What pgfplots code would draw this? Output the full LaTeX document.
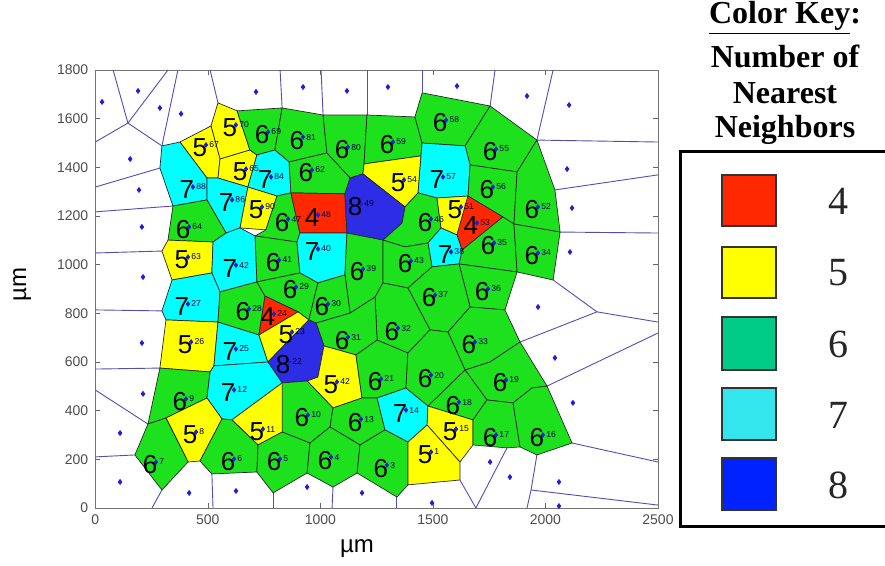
\documentclass[border=0pt]{standalone}
\usepackage{fontspec}
\setmainfont{Liberation Sans}
\newfontfamily\serif{Liberation Serif}
\usepackage{pgfplots}
\usepackage{pgfplotstable}
\pgfplotsset{compat=1.18}
\definecolor{cred}{RGB}{255,40,0}
\definecolor{cyel}{RGB}{255,255,0}
\definecolor{cgrn}{RGB}{30,225,30}
\definecolor{ccya}{RGB}{0,255,255}
\definecolor{cblu}{RGB}{45,45,230}
\definecolor{kgrn}{RGB}{0,204,136}
\definecolor{kcya}{RGB}{51,230,238}
\definecolor{kblu}{RGB}{0,34,255}
\definecolor{vline}{RGB}{85,75,180}
\definecolor{seedc}{RGB}{30,30,220}
\pgfplotsset{cell/.style={draw=black!85, line width=0.35pt, line join=round},
  wl/.style={draw=vline, line width=0.45pt}}

\pgfplotstableread{
x y n i
598 1562 5 70
465 1480 5 67
643 1381 5 65
741 1533 6 69
896 1512 6 81
1096 1471 6 80
1296 1492 6 59
1532 1582 6 58
1754 1463 6 55
754 1348 7 84
936 1377 6 62
1345 1336 5 54
1518 1348 7 57
1740 1307 6 56
1940 1225 6 52
407 1307 7 88
581 1254 7 86
714 1225 5 90
830 1175 6 47
963 1192 4 48
1154 1237 8 49
1465 1175 6 46
1598 1225 5 51
1669 1159 4 53
1745 1077 6 35
1940 1036 6 34
1554 1040 7 38
390 1143 6 64
385 1019 5 63
598 986 7 42
790 1007 6 41
963 1052 7 40
1163 970 6 39
1376 1003 6 43
385 826 7 27
656 806 6 28
865 896 6 29
767 785 4 24
1007 826 6 30
1718 888 6 36
1483 863 6 37
1318 727 6 32
1096 690 6 31
399 670 5 26
598 641 7 25
847 711 5 23
834 588 8 22
1660 670 6 33
1047 506 5 42
1243 518 6 21
1465 534 6 20
1798 514 6 19
376 436 6 9
590 473 7 12
918 370 6 10
718 312 5 11
1154 353 6 13
1354 390 7 14
1589 423 6 18
1576 312 5 15
1754 288 6 17
1962 288 6 16
421 300 5 8
243 177 6 7
590 189 6 6
794 189 6 5
1021 197 6 4
1269 164 6 3
1465 218 5 1
}\labs

\pgfplotstableread{
x y
30 1669
190 1714
287 1644
381 1620
714 1710
923 1730
1118 1714
1300 1730
1607 1734
1918 1693
2105 1656
155 1434
194 1307
207 1155
212 949
207 678
212 469
110 308
110 107
417 62
625 70
941 86
1185 62
1496 21
1754 189
1842 127
2060 107
2060 8
2096 1393
2118 1233
2109 1052
1967 826
2042 617
2122 432
}\seeds

\begin{document}
\begin{tikzpicture}
\useasboundingbox (0,0) rectangle (442.5pt,283pt);
\begin{axis}[
  at={(47.65pt,29pt)}, anchor=south west,
  scale only axis, width=281.35pt, height=219pt,
  xmin=0, xmax=2500, ymin=0, ymax=1800,
  xtick={0,500,...,2500}, ytick={0,200,...,1800},
  tick align=inside, tick pos=both, major tick length=2.5pt,
  axis line style={draw=black!55}, tick style={black!60},
  ticklabel style={font=\fontsize{7}{8}\selectfont, text=black!70},
  /pgf/number format/assume math mode=true,
  /pgf/number format/1000 sep={},
  xlabel={µm}, ylabel={µm},
  label style={font=\fontsize{12}{14}\selectfont},
  xlabel style={at={(axis description cs:0.465,-0.092)}, anchor=center},
  ylabel style={at={(axis description cs:-0.13,0.51)}, anchor=center},
]
% outer (white) Voronoi edges
\addplot[wl] coordinates {(0,1504)(145,1582)};
\addplot[wl] coordinates {(79,1800)(145,1582)};
\addplot[wl] coordinates {(323,1800)(145,1582)};
\addplot[wl] coordinates {(145,1582)(296,1488)};
\addplot[wl] coordinates {(367,1800)(296,1488)};
\addplot[wl] coordinates {(510,1800)(545,1665)};
\addplot[wl] coordinates {(821,1800)(830,1644)};
\addplot[wl] coordinates {(1003,1800)(1012,1615)};
\addplot[wl] coordinates {(1207,1800)(1207,1615)};
\addplot[wl] coordinates {(1452,1800)(1452,1706)};
\addplot[wl] coordinates {(1776,1800)(1754,1652)};
\addplot[wl] coordinates {(2034,1800)(1962,1512)};
\addplot[wl] coordinates {(1962,1512)(2500,1504)};
\addplot[wl] coordinates {(2042,1307)(2500,1369)};
\addplot[wl] coordinates {(2065,1134)(2500,1130)};
\addplot[wl] coordinates {(2034,937)(2229,806)};
\addplot[wl] coordinates {(2229,806)(2500,764)};
\addplot[wl] coordinates {(1887,682)(2229,806)};
\addplot[wl] coordinates {(2007,501)(2500,719)};
\addplot[wl] coordinates {(2118,267)(2500,189)};
\addplot[wl] coordinates {(1936,74)(2500,12)};
\addplot[wl] coordinates {(1962,218)(1936,74)(1918,0)};
\addplot[wl] coordinates {(1829,247)(1691,0)};
\addplot[wl] coordinates {(1620,115)(1691,0)};
\addplot[wl] coordinates {(1340,45)(1340,0)};
\addplot[wl] coordinates {(1056,86)(1052,0)};
\addplot[wl] coordinates {(790,62)(790,0)};
\addplot[wl] coordinates {(518,140)(523,0)};
\addplot[wl] coordinates {(296,74)(252,0)};
\addplot[wl] coordinates {(176,218)(0,210)};
\addplot[wl] coordinates {(234,345)(0,485)};
\addplot[wl] coordinates {(287,575)(0,571)};
\addplot[wl] coordinates {(296,810)(0,814)};
\addplot[wl] coordinates {(296,1056)(0,1048)};
\addplot[wl] coordinates {(345,1241)(0,1217)};
\addplot[wl] coordinates {(287,1397)(0,1319)};
% coloured cells
\addplot[cell,fill=cyel] coordinates {(545,1665)(630,1632)(687,1471)(554,1434)(514,1570)(545,1665)};
\addplot[cell,fill=cyel] coordinates {(376,1504)(514,1570)(554,1434)(545,1356)(496,1356)(376,1504)};
\addplot[cell,fill=cyel] coordinates {(554,1434)(687,1471)(718,1451)(678,1319)(545,1356)(554,1434)};
\addplot[cell,fill=cgrn] coordinates {(630,1632)(830,1644)(798,1471)(718,1451)(687,1471)(630,1632)};
\addplot[cell,fill=cgrn] coordinates {(830,1644)(1012,1615)(1029,1459)(861,1422)(798,1471)(830,1644)};
\addplot[cell,fill=cgrn] coordinates {(1012,1615)(1207,1615)(1194,1414)(1189,1373)(1132,1356)(1029,1459)(1012,1615)};
\addplot[cell,fill=cgrn] coordinates {(1207,1615)(1420,1607)(1452,1500)(1447,1447)(1194,1414)(1207,1615)};
\addplot[cell,fill=cgrn] coordinates {(1420,1607)(1452,1706)(1754,1652)(1643,1488)(1452,1500)(1420,1607)};
\addplot[cell,fill=cgrn] coordinates {(1754,1652)(1962,1512)(1874,1381)(1665,1410)(1643,1488)(1754,1652)};
\addplot[cell,fill=ccya] coordinates {(718,1451)(798,1471)(861,1422)(869,1295)(807,1282)(678,1319)(718,1451)};
\addplot[cell,fill=cgrn] coordinates {(861,1422)(1029,1459)(1132,1356)(1109,1291)(869,1295)(861,1422)};
\addplot[cell,fill=cyel] coordinates {(1194,1414)(1447,1447)(1434,1295)(1376,1237)(1189,1373)(1194,1414)};
\addplot[cell,fill=ccya] coordinates {(1452,1500)(1643,1488)(1665,1410)(1656,1282)(1518,1274)(1434,1295)(1447,1447)(1452,1500)};
\addplot[cell,fill=cgrn] coordinates {(1665,1410)(1874,1381)(1860,1167)(1811,1196)(1656,1282)(1665,1410)};
\addplot[cell,fill=cgrn] coordinates {(1962,1512)(2042,1307)(2065,1134)(1860,1167)(1874,1381)(1962,1512)};
\addplot[cell,fill=ccya] coordinates {(296,1488)(376,1504)(496,1356)(496,1266)(345,1241)(287,1397)(296,1488)};
\addplot[cell,fill=ccya] coordinates {(496,1356)(545,1356)(678,1319)(643,1151)(581,1130)(496,1266)(496,1356)};
\addplot[cell,fill=cyel] coordinates {(678,1319)(807,1282)(758,1143)(643,1151)(678,1319)};
\addplot[cell,fill=cgrn] coordinates {(807,1282)(869,1295)(909,1130)(896,1093)(710,1118)(758,1143)(807,1282)};
\addplot[cell,fill=cred] coordinates {(869,1295)(1109,1291)(1118,1130)(909,1130)(869,1295)};
\addplot[cell,fill=cblu] coordinates {(1132,1356)(1189,1373)(1376,1237)(1363,1171)(1278,1101)(1118,1130)(1109,1291)(1132,1356)};
\addplot[cell,fill=cgrn] coordinates {(1434,1295)(1518,1274)(1536,1151)(1478,1089)(1376,1073)(1278,1101)(1363,1171)(1376,1237)(1434,1295)};
\addplot[cell,fill=cyel] coordinates {(1518,1274)(1656,1282)(1607,1122)(1536,1151)(1518,1274)};
\addplot[cell,fill=cred] coordinates {(1656,1282)(1811,1196)(1629,1060)(1607,1122)(1656,1282)};
\addplot[cell,fill=cgrn] coordinates {(1811,1196)(1860,1167)(1874,970)(1616,1003)(1629,1060)(1811,1196)};
\addplot[cell,fill=cgrn] coordinates {(1860,1167)(2065,1134)(2034,937)(1874,970)(1860,1167)};
\addplot[cell,fill=ccya] coordinates {(1536,1151)(1607,1122)(1629,1060)(1616,1003)(1496,991)(1478,1089)(1536,1151)};
\addplot[cell,fill=cgrn] coordinates {(345,1241)(496,1266)(581,1130)(523,1093)(323,1101)(345,1241)};
\addplot[cell,fill=cyel] coordinates {(323,1101)(523,1093)(518,966)(341,937)(296,1056)(323,1101)};
\addplot[cell,fill=ccya] coordinates {(523,1093)(581,1130)(643,1151)(710,1118)(718,929)(554,888)(518,966)(523,1093)};
\addplot[cell,fill=cgrn] coordinates {(710,1118)(896,1093)(909,966)(718,929)(710,1118)};
\addplot[cell,fill=ccya] coordinates {(896,1093)(909,1130)(1118,1130)(1109,958)(989,925)(909,966)(896,1093)};
\addplot[cell,fill=cgrn] coordinates {(1118,1130)(1278,1101)(1278,925)(1243,867)(1132,801)(1109,958)(1118,1130)};
\addplot[cell,fill=cgrn] coordinates {(1278,1101)(1376,1073)(1478,1089)(1496,991)(1389,904)(1278,925)(1278,1101)};
\addplot[cell,fill=ccya] coordinates {(341,937)(518,966)(554,888)(545,764)(314,773)(296,810)(341,937)};
\addplot[cell,fill=cgrn] coordinates {(554,888)(718,929)(754,871)(727,711)(545,764)(554,888)};
\addplot[cell,fill=cgrn] coordinates {(718,929)(909,966)(989,925)(949,773)(901,806)(754,871)(718,929)};
\addplot[cell,fill=cred] coordinates {(754,871)(901,806)(727,711)(754,871)};
\addplot[cell,fill=cgrn] coordinates {(989,925)(1109,958)(1132,801)(981,760)(949,773)(989,925)};
\addplot[cell,fill=cgrn] coordinates {(1616,1003)(1874,970)(1820,814)(1665,826)(1616,1003)};
\addplot[cell,fill=cgrn] coordinates {(1496,991)(1616,1003)(1665,826)(1567,723)(1487,732)(1389,904)(1496,991)};
\addplot[cell,fill=cgrn] coordinates {(1278,925)(1389,904)(1487,732)(1389,637)(1252,690)(1243,867)(1278,925)};
\addplot[cell,fill=cgrn] coordinates {(981,760)(1132,801)(1243,867)(1252,690)(1158,629)(1016,666)(981,760)};
\addplot[cell,fill=cyel] coordinates {(314,773)(545,764)(527,584)(510,559)(287,575)(314,773)};
\addplot[cell,fill=ccya] coordinates {(545,764)(727,711)(767,600)(527,584)(545,764)};
\addplot[cell,fill=cyel] coordinates {(727,711)(901,806)(949,773)(767,600)(727,711)};
\addplot[cell,fill=cblu] coordinates {(767,600)(949,773)(981,760)(1016,666)(989,538)(941,522)(830,514)(767,600)};
\addplot[cell,fill=cgrn] coordinates {(1567,723)(1665,826)(1820,814)(1887,682)(1754,600)(1643,567)(1567,723)};
\addplot[cell,fill=cyel] coordinates {(1016,666)(1158,629)(1185,452)(1056,411)(941,522)(989,538)(1016,666)};
\addplot[cell,fill=cgrn] coordinates {(1158,629)(1252,690)(1389,637)(1380,493)(1252,452)(1185,452)(1158,629)};
\addplot[cell,fill=cgrn] coordinates {(1389,637)(1487,732)(1567,723)(1643,567)(1478,419)(1380,493)(1389,637)};
\addplot[cell,fill=cgrn] coordinates {(1643,567)(1754,600)(1887,682)(2007,501)(1940,493)(1856,432)(1740,444)(1643,567)};
\addplot[cell,fill=cgrn] coordinates {(287,575)(510,559)(496,452)(314,370)(234,345)(287,575)};
\addplot[cell,fill=ccya] coordinates {(510,559)(527,584)(767,600)(830,514)(607,362)(563,366)(496,452)(510,559)};
\addplot[cell,fill=cgrn] coordinates {(830,514)(941,522)(1056,411)(1043,333)(954,267)(830,312)(830,514)};
\addplot[cell,fill=cyel] coordinates {(607,362)(830,514)(830,312)(723,259)(607,362)};
\addplot[cell,fill=cgrn] coordinates {(1056,411)(1185,452)(1252,452)(1287,321)(1176,259)(1043,333)(1056,411)};
\addplot[cell,fill=ccya] coordinates {(1252,452)(1380,493)(1478,419)(1474,341)(1389,271)(1287,321)(1252,452)};
\addplot[cell,fill=cgrn] coordinates {(1478,419)(1643,567)(1740,444)(1678,362)(1478,419)};
\addplot[cell,fill=cyel] coordinates {(1478,419)(1678,362)(1678,259)(1620,189)(1474,341)(1478,419)};
\addplot[cell,fill=cgrn] coordinates {(1678,362)(1740,444)(1856,432)(1887,251)(1829,247)(1678,259)(1678,362)};
\addplot[cell,fill=cgrn] coordinates {(1856,432)(1940,493)(2007,501)(2118,267)(1962,218)(1887,251)(1856,432)};
\addplot[cell,fill=cyel] coordinates {(314,370)(496,452)(563,366)(465,193)(412,189)(314,370)};
\addplot[cell,fill=cgrn] coordinates {(234,345)(314,370)(412,189)(296,74)(176,218)(234,345)};
\addplot[cell,fill=cgrn] coordinates {(563,366)(607,362)(723,259)(718,148)(518,140)(465,193)(563,366)};
\addplot[cell,fill=cgrn] coordinates {(723,259)(830,312)(954,267)(941,144)(790,62)(718,148)(723,259)};
\addplot[cell,fill=cgrn] coordinates {(954,267)(1043,333)(1176,259)(1163,144)(1056,86)(941,144)(954,267)};
\addplot[cell,fill=cgrn] coordinates {(1176,259)(1287,321)(1389,271)(1389,95)(1340,45)(1163,144)(1176,259)};
\addplot[cell,fill=cyel] coordinates {(1389,271)(1474,341)(1620,189)(1620,115)(1389,95)(1389,271)};
% seed points
\addplot[only marks, mark=diamond*, mark size=1.2pt, color=seedc] table[x=x,y=y] \seeds;
\addplot[only marks, mark=diamond*, mark size=1.1pt, color=seedc, mark options={xshift=3pt,yshift=1.5pt}] table[x=x,y=y] \labs;
% cell labels
\addplot[draw=none, mark=none, nodes near coords, point meta=explicit symbolic,
  every node near coord/.append style={anchor=center, inner sep=0pt, font=\fontsize{13}{13}\selectfont, text=black}]
  table[x=x,y=y,meta=n] \labs;
\addplot[draw=none, mark=none, nodes near coords, point meta=explicit symbolic,
  every node near coord/.append style={anchor=west, inner sep=0pt, xshift=4.5pt, yshift=1.5pt, font=\fontsize{4.3}{5}\selectfont, text=black!75!blue}]
  table[x=x,y=y,meta=i] \labs;
\end{axis}
% colour key
\begin{scope}[font=\serif\bfseries\fontsize{16}{18}\selectfont]
\node at (392.5pt,274pt) {\underline{Color Key}:};
\node at (392.5pt,255pt) {Number of};
\node at (392.5pt,236.5pt) {Nearest};
\node at (392.5pt,218pt) {Neighbors};
\end{scope}
\draw[line width=1.5pt] (340pt,19.5pt) rectangle (452pt,207pt);
\filldraw[fill=cred, draw=black!80, line width=0.6pt] (361pt,170pt) rectangle (388pt,195.5pt);
\filldraw[fill=cyel, draw=black!80, line width=0.6pt] (361pt,134pt) rectangle (388pt,159.5pt);
\filldraw[fill=kgrn, draw=black!80, line width=0.6pt] (361pt,98pt) rectangle (388pt,124.5pt);
\filldraw[fill=kcya, draw=black!80, line width=0.6pt] (361pt,63pt) rectangle (388pt,89pt);
\filldraw[fill=kblu, draw=black!80, line width=0.6pt] (361pt,28pt) rectangle (388pt,54pt);
\begin{scope}[font=\serif\fontsize{20}{22}\selectfont, text=black!85]
\node at (419pt,182.5pt) {4};
\node at (419pt,146.5pt) {5};
\node at (419pt,111pt) {6};
\node at (419pt,75.5pt) {7};
\node at (419pt,40.5pt) {8};
\end{scope}
\end{tikzpicture}
\end{document}
